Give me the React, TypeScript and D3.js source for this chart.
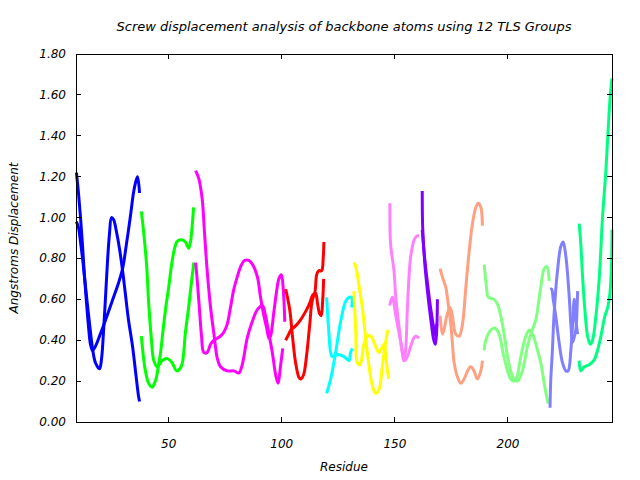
import React from 'react';
import * as d3 from 'd3';

type Pt = [number, number];

const titleText = 'Screw displacement analysis of backbone atoms using 12 TLS Groups';
const xLabel = 'Residue';
const yLabel = 'Angstroms Displacement';
const xTicks = [50, 100, 150, 200];
const yTicks = [0, 0.2, 0.4, 0.6, 0.8, 1.0, 1.2, 1.4, 1.6, 1.8];
const xDomain: Pt = [9, 246];
const yDomain: Pt = [0, 1.8];

const groupColors = ['#0000ff', '#00ff00', '#ff00ff', '#ff0000', '#00ffff', '#ffff00',
  '#ff80ff', '#8000ff', '#ffa080', '#80ff80', '#8080ff', '#00ff80'];

// Group 1 (blue)
const g1a: Pt[] = [[9.2,1.22],[10.1,1.12],[11.0,1.00],[11.9,0.86],[12.7,0.72],[13.6,0.59],[14.5,0.47],[15.4,0.38],[16.3,0.35],[17.6,0.37],[19.4,0.42],[21.1,0.47],[23.4,0.54],[25.6,0.61],[27.8,0.68],[29.6,0.75],[31.3,0.87],[33.1,1.01],[34.4,1.12],[35.3,1.17],[36.2,1.20],[37.1,1.12]];
const g1b: Pt[] = [[9.2,0.98],[10.1,0.95],[11.0,0.88],[12.3,0.76],[13.6,0.62],[15.0,0.48],[16.3,0.36],[17.6,0.29],[19.4,0.26],[20.3,0.31],[21.1,0.43],[22.0,0.60],[22.9,0.78],[23.8,0.92],[24.7,1.00],[25.6,0.99],[26.9,0.93],[28.2,0.85],[29.6,0.74],[30.9,0.62],[32.2,0.50],[34.0,0.37],[35.3,0.25],[36.6,0.13],[37.1,0.10]];
// Group 2 (green)
const g2a: Pt[] = [[37.9,0.42],[38.8,0.32],[39.7,0.25],[41.1,0.19],[42.7,0.17],[43.7,0.19],[44.6,0.22],[45.5,0.28],[46.4,0.34],[47.5,0.45],[48.7,0.56],[50.0,0.66],[50.9,0.74],[51.7,0.80],[52.6,0.85],[53.5,0.88],[54.5,0.89],[56.1,0.89],[57.4,0.88],[58.8,0.85],[59.6,0.88],[60.3,0.95],[61.0,1.05]];
const g2b: Pt[] = [[37.9,1.03],[38.9,0.93],[40.2,0.77],[41.2,0.57],[42.3,0.41],[43.4,0.30],[44.9,0.27],[47.1,0.30],[49.3,0.31],[51.5,0.29],[53.5,0.25],[55.5,0.27],[57.4,0.44],[58.8,0.56],[59.6,0.64],[61.1,0.78]];
// Group 3 (magenta)
const g3a: Pt[] = [[61.9,1.23],[63.3,1.19],[64.8,1.09],[65.8,0.93],[67.0,0.74],[68.5,0.56],[70.0,0.43],[71.5,0.31],[72.9,0.27],[75.9,0.25],[78.8,0.25],[81.0,0.24],[82.5,0.28],[84.7,0.41],[86.9,0.49],[89.2,0.55],[91.4,0.57],[92.8,0.52],[94.3,0.43],[95.8,0.34],[97.3,0.23],[98.3,0.19],[99.5,0.28],[100.4,0.36]];
const g3b: Pt[] = [[61.9,0.78],[62.7,0.68],[63.6,0.55],[64.5,0.42],[65.5,0.34],[67.0,0.34],[68.5,0.38],[70.0,0.40],[71.5,0.41],[72.9,0.42],[74.4,0.44],[75.9,0.48],[77.3,0.56],[78.8,0.65],[80.3,0.71],[81.8,0.76],[83.5,0.79],[85.4,0.79],[87.1,0.77],[89.2,0.71],[90.6,0.61],[91.9,0.53],[93.3,0.46],[94.3,0.41],[95.0,0.42],[96.5,0.54],[97.7,0.64],[98.7,0.70],[99.8,0.72],[100.7,0.64],[101.3,0.49]];
// Group 4 (red)
const g4a: Pt[] = [[101.7,0.65],[103.5,0.55],[104.8,0.41],[106.1,0.29],[107.5,0.22],[108.3,0.21],[109.6,0.23],[111.0,0.33],[112.3,0.47],[113.6,0.60],[115.0,0.63],[115.8,0.58],[116.7,0.53],[117.4,0.52],[118.1,0.60],[118.5,0.70]];
const g4b: Pt[] = [[101.7,0.40],[103.1,0.43],[104.0,0.45],[106.1,0.47],[108.3,0.50],[110.5,0.54],[112.3,0.58],[113.6,0.62],[114.5,0.63],[115.4,0.72],[116.3,0.74],[117.6,0.74],[118.3,0.80],[118.6,0.88]];
// Group 5 (cyan)
const g5a: Pt[] = [[119.8,0.61],[120.8,0.44],[121.6,0.34],[122.3,0.32],[124.6,0.33],[127.5,0.32],[129.7,0.30],[130.4,0.34],[131.2,0.36]];
const g5b: Pt[] = [[119.8,0.14],[121.6,0.21],[123.8,0.34],[126.0,0.49],[128.2,0.59],[129.7,0.61],[130.8,0.61],[130.9,0.56]];
// Group 6 (yellow)
const g6a: Pt[] = [[131.9,0.78],[132.7,0.76],[134.1,0.67],[135.6,0.56],[137.1,0.41],[138.5,0.28],[140.0,0.18],[141.5,0.14],[143.0,0.16],[144.5,0.28],[145.9,0.39],[146.9,0.45]];
const g6b: Pt[] = [[131.9,0.64],[132.7,0.44],[133.4,0.29],[134.6,0.28],[136.3,0.38],[137.8,0.42],[139.3,0.42],[141.5,0.37],[143.0,0.34],[145.2,0.38],[145.9,0.34],[146.6,0.26],[147.3,0.21]];
// Group 7 (pink)
const g7a: Pt[] = [[147.8,1.07],[148.1,0.87],[149.6,0.74],[150.4,0.61],[151.8,0.47],[153.3,0.34],[154.3,0.30],[155.5,0.32],[157.0,0.37],[158.3,0.41],[159.2,0.42],[160.7,0.41]];
const g7b: Pt[] = [[147.7,0.57],[148.9,0.61],[150.4,0.52],[152.6,0.39],[154.0,0.30],[154.8,0.36],[155.5,0.55],[156.3,0.72],[157.0,0.81],[158.5,0.89],[159.7,0.91],[160.7,0.91]];
// Group 8 (purple)
const g8a: Pt[] = [[162.1,1.13],[162.3,0.95],[163.2,0.78],[164.4,0.64],[165.9,0.50],[167.2,0.40],[167.9,0.38],[168.5,0.45],[168.8,0.60]];
const g8b: Pt[] = [[162.1,0.94],[163.0,0.82],[164.4,0.68],[165.9,0.55],[167.2,0.46],[168.1,0.42],[168.5,0.48]];
// Group 9 (salmon)
const g9a: Pt[] = [[170.0,0.75],[171.0,0.71],[172.5,0.66],[173.2,0.61],[173.9,0.55],[174.7,0.48],[175.4,0.39],[176.2,0.29],[177.7,0.22],[179.1,0.19],[180.6,0.21],[182.1,0.25],[183.5,0.27],[185.0,0.25],[186.5,0.21],[188.0,0.25],[188.7,0.30]];
const g9b: Pt[] = [[170.0,0.52],[171.0,0.43],[171.7,0.45],[173.2,0.53],[174.4,0.56],[175.4,0.52],[176.9,0.43],[178.4,0.42],[179.9,0.48],[181.3,0.65],[182.8,0.83],[184.3,0.97],[185.8,1.05],[186.8,1.07],[188.0,1.05],[188.7,0.96]];
// Group 10 (light green)
const g10a: Pt[] = [[189.5,0.77],[190.6,0.65],[191.3,0.61],[193.9,0.60],[195.6,0.57],[196.8,0.52],[198.3,0.43],[199.8,0.32],[201.2,0.25],[202.7,0.21],[204.2,0.20],[206.4,0.25],[208.6,0.37],[210.1,0.43],[212.3,0.50],[214.5,0.66],[216.0,0.75],[217.2,0.76],[218.2,0.69]];
const g10b: Pt[] = [[189.5,0.35],[190.2,0.40],[192.4,0.45],[194.2,0.46],[196.1,0.43],[197.6,0.35],[199.8,0.25],[201.2,0.21],[202.6,0.20],[203.9,0.22],[205.7,0.32],[207.9,0.42],[209.4,0.45],[210.9,0.43],[213.1,0.35],[214.5,0.29],[216.0,0.19],[217.2,0.12],[217.8,0.09]];
// Group 11 (slate blue)
const g11a: Pt[] = [[218.6,0.07],[218.9,0.20],[219.6,0.34],[220.4,0.53],[221.9,0.74],[223.4,0.86],[224.4,0.88],[225.6,0.81],[227.1,0.61],[227.8,0.48],[228.6,0.39],[229.4,0.42],[230.0,0.45],[230.8,0.64]];
const g11b: Pt[] = [[218.6,0.65],[219.3,0.65],[220.0,0.60],[221.1,0.52],[222.6,0.39],[224.1,0.29],[225.6,0.25],[226.6,0.25],[227.8,0.35],[228.6,0.48],[229.3,0.60],[229.8,0.52],[230.8,0.43]];
// Group 12 (spring green)
const g12a: Pt[] = [[231.5,0.97],[232.2,0.87],[233.0,0.71],[234.0,0.55],[235.2,0.42],[236.4,0.38],[237.4,0.40],[238.9,0.52],[240.4,0.71],[241.8,1.00],[243.3,1.23],[244.3,1.43],[245.2,1.59],[246.0,1.68]];
const g12b: Pt[] = [[231.5,0.30],[232.2,0.25],[233.7,0.27],[235.9,0.28],[237.9,0.30],[239.6,0.35],[241.1,0.42],[242.9,0.52],[244.1,0.56],[245.1,0.63],[245.8,0.78],[246.0,0.94]];

const groupCurves: Pt[][][] = [
  [g1a, g1b], [g2a, g2b], [g3a, g3b], [g4a, g4b], [g5a, g5b], [g6a, g6b],
  [g7a, g7b], [g8a, g8b], [g9a, g9b], [g10a, g10b], [g11a, g11b], [g12a, g12b],
];

const W = 640, H = 480;
const M = { left: 76, right: 28, top: 54, bottom: 58 };
const FONT = '"DejaVu Sans", sans-serif';

export default function App() {
  const x = d3.scaleLinear().domain(xDomain).range([M.left, W - M.right]);
  const y = d3.scaleLinear().domain(yDomain).range([H - M.bottom, M.top]);
  const line = d3.line<Pt>().x(d => x(d[0])).y(d => y(d[1])).curve(d3.curveCatmullRom.alpha(0.5));
  const x0 = M.left, x1 = W - M.right, y0 = H - M.bottom, y1 = M.top;
  const tk = 5;
  return (
    <svg width={W} height={H} style={{ position: 'absolute', left: 0, top: 0, background: '#fff' }}
      fontFamily={FONT} fontStyle="italic" fontSize={12}>
      <rect x={0} y={0} width={W} height={H} fill="#fff" />
      <text x={(x0 + x1) / 2} y={31} textAnchor="middle" fill="#000" fontSize={13}>{titleText}</text>
      {groupCurves.map((curves, gi) => curves.map((c, ci) => (
        <path key={gi + '-' + ci} d={line(c) || ''} fill="none" stroke={groupColors[gi]}
          strokeWidth={3} strokeLinejoin="round" />
      )))}
      <g stroke="#000" strokeWidth={1} shapeRendering="crispEdges">
        {yTicks.map(t => (
          <g key={'y' + t}>
            <line x1={x0} x2={x0 + tk} y1={y(t)} y2={y(t)} />
            <line x1={x1} x2={x1 - tk} y1={y(t)} y2={y(t)} />
          </g>
        ))}
        {xTicks.map(t => (
          <g key={'x' + t}>
            <line x1={x(t)} x2={x(t)} y1={y0} y2={y0 - tk} />
            <line x1={x(t)} x2={x(t)} y1={y1} y2={y1 + tk} />
          </g>
        ))}
        <rect x={x0} y={y1} width={x1 - x0} height={y0 - y1} fill="none" />
      </g>
      {yTicks.map(t => (
        <text key={'yl' + t} x={x0 - 10} y={y(t) + 4} textAnchor="end" fill="#000">{d3.format('.2f')(t)}</text>
      ))}
      {xTicks.map(t => (
        <text key={'xl' + t} x={x(t)} y={y0 + 26} textAnchor="middle" fill="#000">{t}</text>
      ))}
      <text x={(x0 + x1) / 2} y={471} textAnchor="middle" fill="#000">{xLabel}</text>
      <text transform={`translate(18,${(y0 + y1) / 2}) rotate(-90)`} textAnchor="middle" fill="#000">{yLabel}</text>
    </svg>
  );
}
